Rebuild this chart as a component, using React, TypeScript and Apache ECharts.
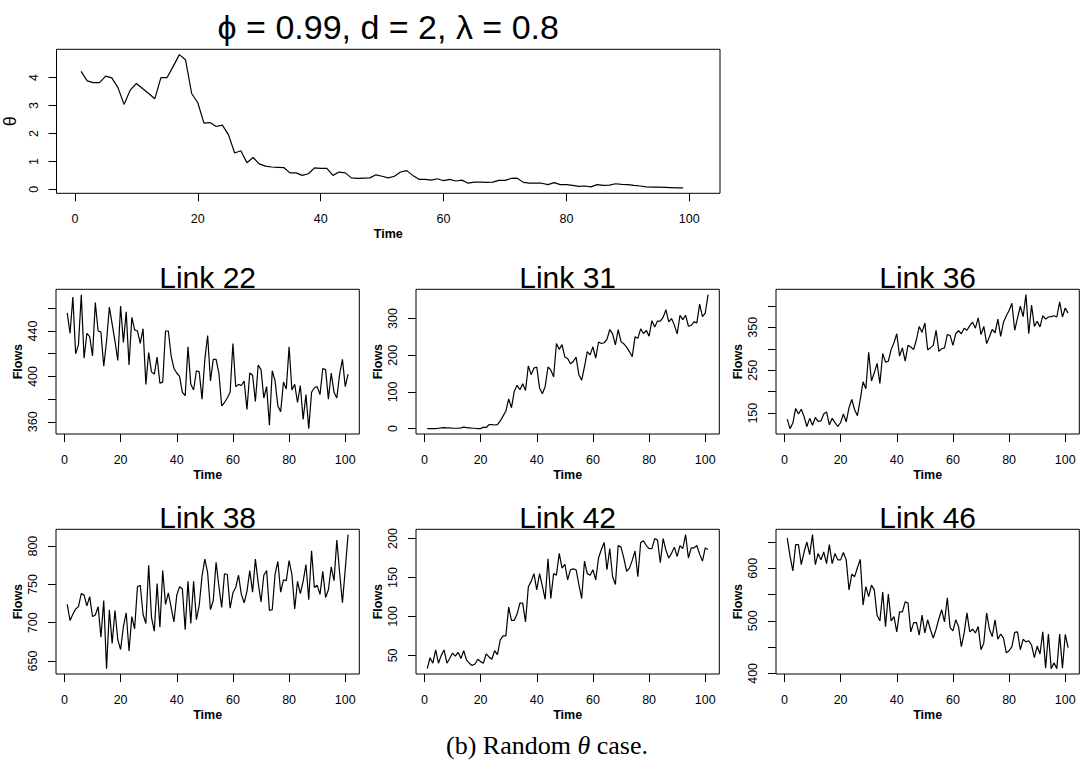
import React, { useEffect, useRef } from 'react';
import * as echarts from 'echarts';

// ---------------- data ----------------
const theta = [
  4.22, 3.88, 3.82, 3.82, 4.05, 3.99, 3.64, 3.04, 3.55, 3.79,
  3.61, 3.43, 3.24, 4.0, 4.0, 4.4, 4.82, 4.64, 3.43, 3.1,
  2.37, 2.39, 2.25, 2.3, 1.95, 1.3, 1.38, 0.95, 1.14, 0.91,
  0.83, 0.8, 0.79, 0.78, 0.59, 0.59, 0.5, 0.56, 0.77, 0.75,
  0.75, 0.5, 0.62, 0.59, 0.41, 0.39, 0.4, 0.41, 0.52, 0.47,
  0.41, 0.47, 0.62, 0.67, 0.5, 0.36, 0.36, 0.33, 0.38, 0.31,
  0.36, 0.3, 0.33, 0.22, 0.26, 0.26, 0.25, 0.26, 0.32, 0.32,
  0.39, 0.4, 0.25, 0.22, 0.22, 0.22, 0.17, 0.24, 0.17, 0.17,
  0.14, 0.11, 0.12, 0.09, 0.17, 0.14, 0.15, 0.2, 0.18, 0.17,
  0.14, 0.12, 0.09, 0.08, 0.08, 0.07, 0.06, 0.05, 0.05,
];

const link22 = [
  456, 438, 470, 420, 428, 472, 416, 438, 435, 418,
  465, 440, 439, 409, 431, 461, 446, 431, 414, 462,
  430, 457, 410, 452, 441, 440, 429, 442, 393, 421,
  404, 402, 417, 394, 395, 440, 440, 418, 407, 403,
  400, 386, 383, 426, 393, 388, 405, 404, 380, 415,
  436, 396, 415, 415, 403, 374, 377, 381, 386, 429,
  391, 393, 392, 396, 371, 403, 401, 378, 410, 406,
  381, 391, 357, 405, 396, 374, 369, 395, 389, 426,
  388, 393, 377, 392, 362, 384, 354, 386, 390, 391,
  384, 407, 406, 380, 403, 386, 381, 402, 415, 391,
  402,
];

const link31 = [
  0, 0, 0, 0, 1, 2, 3, 2, 2, 1,
  1, 1, 2, 4, 3, 2, 1, 1, 0, 0,
  4, 3, 11, 11, 10, 11, 21, 34, 48, 81,
  57, 102, 118, 106, 122, 104, 171, 147, 165, 168,
  111, 95, 115, 168, 160, 141, 232, 216, 229, 195,
  191, 177, 183, 195, 147, 132, 169, 210, 201, 223,
  192, 236, 232, 234, 243, 270, 258, 228, 270, 237,
  231, 222, 210, 196, 250, 246, 272, 259, 268, 252,
  294, 277, 293, 293, 303, 324, 291, 300, 282, 258,
  309, 297, 309, 279, 281, 291, 288, 339, 305, 315,
  365,
];

const link36 = [
  136, 114, 127, 161, 148, 159, 142, 119, 138, 122,
  140, 131, 132, 148, 153, 123, 138, 128, 119, 128,
  148, 130, 163, 182, 158, 144, 182, 223, 207, 292,
  225, 244, 266, 219, 289, 269, 271, 298, 314, 335,
  283, 302, 271, 308, 304, 298, 321, 352, 338, 360,
  298, 302, 308, 343, 294, 300, 302, 333, 331, 308,
  335, 342, 335, 348, 343, 354, 362, 348, 372, 333,
  352, 312, 328, 345, 337, 369, 329, 362, 377, 389,
  406, 343, 372, 399, 375, 426, 335, 402, 352, 364,
  351, 377, 369, 374, 375, 377, 374, 409, 374, 395,
  383,
];

const link38 = [
  724, 703, 711, 718, 721, 738, 736, 722, 734, 708,
  710, 721, 681, 729, 640, 717, 673, 716, 678, 665,
  695, 713, 663, 708, 692, 747, 749, 711, 699, 775,
  707, 689, 751, 694, 768, 724, 739, 720, 701, 736,
  747, 744, 691, 754, 699, 754, 704, 723, 761, 783,
  765, 717, 729, 779, 748, 720, 764, 763, 719, 739,
  746, 762, 737, 726, 741, 768, 740, 783, 752, 727,
  762, 768, 716, 717, 763, 780, 740, 756, 755, 781,
  763, 718, 754, 738, 754, 776, 730, 794, 746, 749,
  737, 767, 733, 743, 773, 755, 808, 765, 726, 770,
  815,
];

const link42 = [
  33, 47, 40, 57, 40, 50, 57, 40, 46, 53,
  49, 54, 46, 56, 44, 40, 37, 39, 45, 42,
  40, 52, 48, 45, 56, 51, 70, 75, 75, 112,
  95, 95, 103, 117, 117, 93, 138, 145, 155, 134,
  155, 139, 122, 174, 123, 155, 153, 181, 162, 167,
  147, 160, 161, 160, 141, 123, 171, 155, 153, 160,
  147, 175, 186, 195, 160, 187, 151, 141, 191, 189,
  175, 158, 162, 172, 184, 151, 195, 197, 191, 187,
  187, 200, 198, 169, 200, 185, 175, 181, 189, 177,
  191, 187, 205, 175, 188, 188, 191, 180, 171, 188,
  186,
];

const link46 = [
  658, 623, 595, 645, 645, 607, 631, 650, 626, 664,
  607, 628, 616, 631, 609, 645, 609, 628, 616, 616,
  630, 616, 559, 589, 584, 601, 617, 530, 565, 546,
  568, 559, 510, 500, 555, 489, 551, 500, 508, 479,
  517, 517, 536, 534, 479, 496, 497, 473, 511, 477,
  502, 483, 467, 484, 504, 521, 498, 544, 487, 481,
  502, 489, 451, 477, 515, 479, 484, 477, 489, 445,
  458, 515, 484, 470, 502, 465, 475, 467, 439, 443,
  451, 478, 479, 445, 465, 460, 462, 454, 430, 452,
  437, 479, 410, 475, 409, 420, 409, 475, 410, 474,
  449,
];

const xTicks = [0, 20, 40, 60, 80, 100];
const thetaTicks = [0, 1, 2, 3, 4];
const link22Ticks = [360, 380, 400, 420, 440, 460];
const link22Labels = [360, 400, 440];
const link31Ticks = [0, 100, 200, 300];
const link36Ticks = [150, 200, 250, 300, 350, 400];
const link36Labels = [150, 250, 350];
const link38Ticks = [650, 700, 750, 800];
const link42Ticks = [50, 100, 150, 200];
const link46Ticks = [400, 450, 500, 550, 600, 650];
const link46Labels = [400, 500, 600];

const topTitle = '\u03D5 = 0.99, d = 2, \u03BB = 0.8';

// ---------------- layout ----------------
const FONT = '"Liberation Sans", Arial, Helvetica, sans-serif';
const SERIF = '"Liberation Serif", "Times New Roman", serif';
const X_MIN = -3;
const X_MAX = 105;
const COLS = [56, 416, 776];
const ROWS = [289.3, 529.3];
const PW = 303.3;
const PH = 144.7;

export default function App() {
  const ref = useRef<HTMLDivElement>(null);

  useEffect(() => {
    const chart = echarts.init(ref.current!, null, { renderer: 'svg' });

    const panels = [
      { title: topTitle, titleSize: 34, values: theta, ticks: thetaTicks, labels: thetaTicks, yName: '\u03B8', nameBold: false, nameSize: 18, nameGap: 27, box: [56.5, 49.3, 663.5, 144], titleY: 27 },
      { title: 'Link 22', titleSize: 30, values: link22, ticks: link22Ticks, labels: link22Labels, yName: 'Flows', nameBold: true, nameSize: 12.5, nameGap: 32, box: [COLS[0], ROWS[0], PW, PH], titleY: 277 },
      { title: 'Link 31', titleSize: 30, values: link31, ticks: link31Ticks, labels: link31Ticks, yName: 'Flows', nameBold: true, nameSize: 12.5, nameGap: 32, box: [COLS[1], ROWS[0], PW, PH], titleY: 277 },
      { title: 'Link 36', titleSize: 30, values: link36, ticks: link36Ticks, labels: link36Labels, yName: 'Flows', nameBold: true, nameSize: 12.5, nameGap: 32, box: [COLS[2], ROWS[0], PW, PH], titleY: 277 },
      { title: 'Link 38', titleSize: 30, values: link38, ticks: link38Ticks, labels: link38Ticks, yName: 'Flows', nameBold: true, nameSize: 12.5, nameGap: 32, box: [COLS[0], ROWS[1], PW, PH], titleY: 517 },
      { title: 'Link 42', titleSize: 30, values: link42, ticks: link42Ticks, labels: link42Ticks, yName: 'Flows', nameBold: true, nameSize: 12.5, nameGap: 32, box: [COLS[1], ROWS[1], PW, PH], titleY: 517 },
      { title: 'Link 46', titleSize: 30, values: link46, ticks: link46Ticks, labels: link46Labels, yName: 'Flows', nameBold: true, nameSize: 12.5, nameGap: 32, box: [COLS[2], ROWS[1], PW, PH], titleY: 517 },
    ];

    const grid: any[] = [];
    const xAxis: any[] = [];
    const yAxis: any[] = [];
    const series: any[] = [];
    const graphic: any[] = [];

    panels.forEach((p, i) => {
      const [left, top, width, height] = p.box;
      grid.push({
        left, top, width, height,
        show: true, borderColor: '#000', borderWidth: 1, backgroundColor: 'transparent',
        containLabel: false, outerBoundsMode: 'none',
      });
      xAxis.push({
        type: 'value', gridIndex: i, min: X_MIN, max: X_MAX, position: 'bottom',
        axisLine: { show: false, onZero: false },
        splitLine: { show: false },
        axisTick: { show: true, length: 8, customValues: xTicks, lineStyle: { color: '#000', width: 1 } },
        axisLabel: { customValues: xTicks, margin: 19, fontSize: 12.5, color: '#000', fontFamily: FONT },
        name: 'Time', nameLocation: 'middle', nameGap: 34,
        nameTextStyle: { fontSize: 12.5, fontWeight: 'bold', color: '#000', fontFamily: FONT },
      });
      const lo = Math.min(...p.values);
      const hi = Math.max(...p.values);
      const r = hi - lo;
      yAxis.push({
        type: 'value', gridIndex: i, min: lo - 0.04 * r, max: hi + 0.04 * r, position: 'left',
        axisLine: { show: false, onZero: false },
        splitLine: { show: false },
        axisTick: { show: true, length: 8, customValues: p.ticks, lineStyle: { color: '#000', width: 1 } },
        axisLabel: { customValues: p.labels, rotate: 90, margin: 16.5, fontSize: 12.5, color: '#000', fontFamily: FONT },
        name: p.yName, nameLocation: 'middle', nameGap: p.nameGap,
        nameTextStyle: { fontSize: p.nameSize, fontWeight: p.nameBold ? 'bold' : 'normal', color: '#000', fontFamily: FONT },
      });
      series.push({
        type: 'line', xAxisIndex: i, yAxisIndex: i,
        data: p.values.map((v, k) => [k + 1, v]),
        showSymbol: false, symbol: 'none',
        lineStyle: { color: '#000', width: 1.2 },
        emphasis: { disabled: true },
      });
      graphic.push({
        type: 'text', x: left + width / 2, y: p.titleY,
        style: { text: p.title, fontSize: p.titleSize, fontFamily: FONT, fill: '#000', align: 'center', verticalAlign: 'middle' },
      });
    });

    graphic.push({
      type: 'text', x: 547, y: 745,
      style: {
        text: '(b) Random {i|\u03B8} case.',
        fontSize: 26, fontFamily: SERIF, fill: '#000',
        align: 'center', verticalAlign: 'middle',
        rich: { i: { fontStyle: 'italic', fontSize: 26, fontFamily: SERIF, fill: '#000' } },
      },
    });

    chart.setOption({
      animation: false,
      backgroundColor: '#fff',
      grid, xAxis, yAxis, series, graphic,
    });

    return () => chart.dispose();
  }, []);

  return (
    <div
      ref={ref}
      style={{ position: 'fixed', left: 0, top: 0, width: 1083, height: 767, background: '#fff' }}
    />
  );
}
